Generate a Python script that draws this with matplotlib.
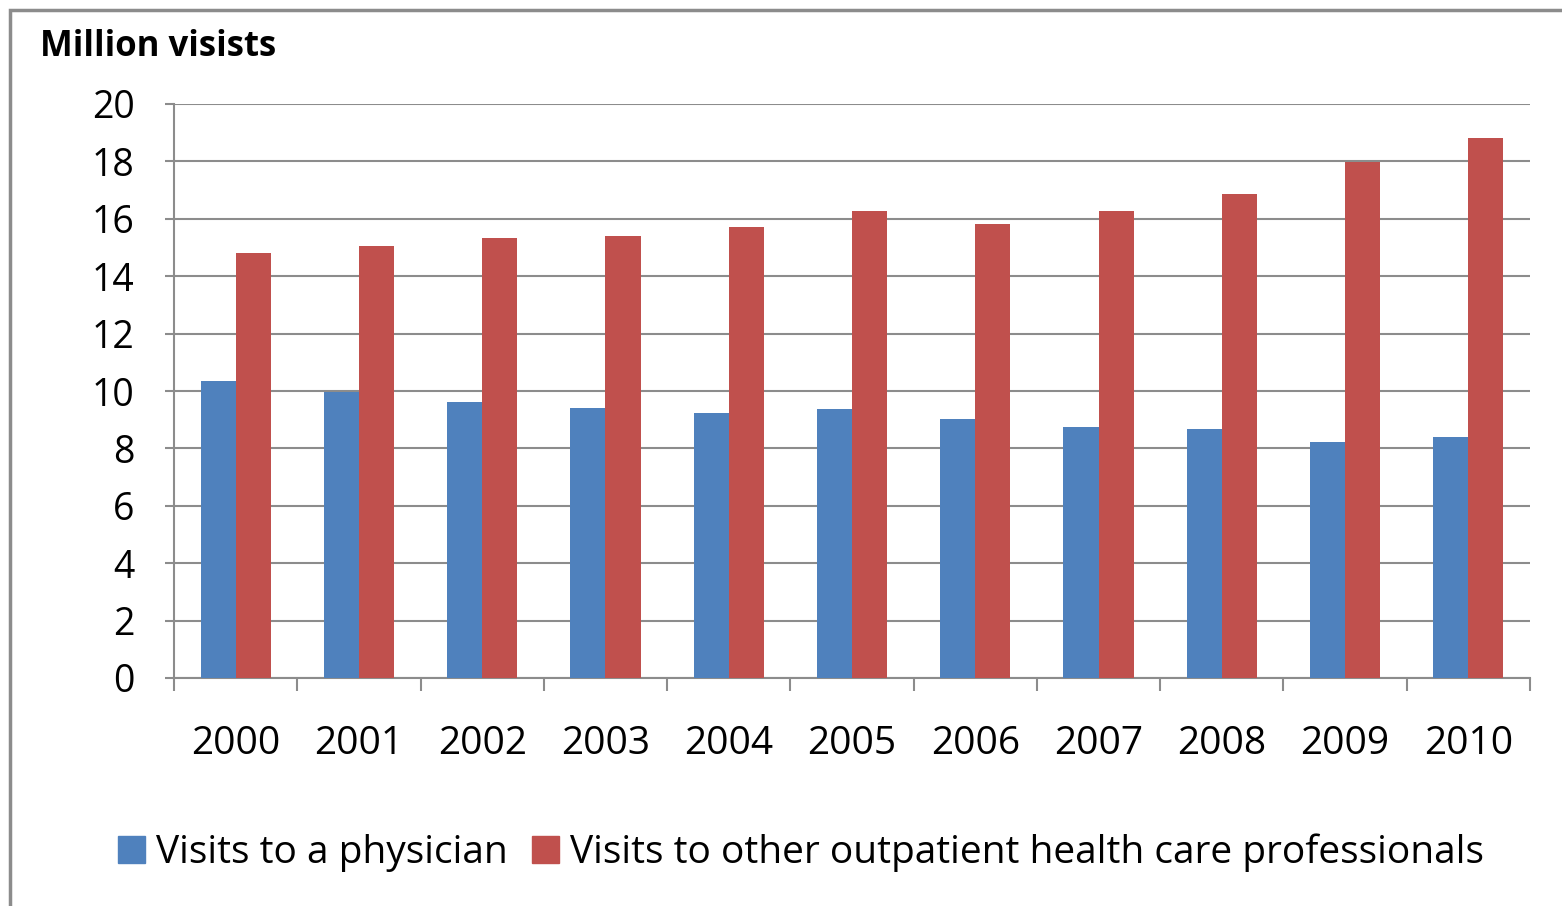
import numpy as np
import matplotlib.pyplot as plt
from matplotlib.patches import Rectangle, Patch

years = ["2000", "2001", "2002", "2003", "2004", "2005",
         "2006", "2007", "2008", "2009", "2010"]
physician = [10.36, 9.97, 9.63, 9.42, 9.22, 9.36, 9.02, 8.76, 8.69, 8.22, 8.41]
other_prof = [14.80, 15.06, 15.33, 15.40, 15.73, 16.27, 15.81, 16.27, 16.87, 17.97, 18.82]

blue = "#4F81BD"
red = "#C0504D"
grey = "#8C8C8C"

plt.rcParams["font.family"] = ["Open Sans", "DejaVu Sans"]

fig = plt.figure(figsize=(15.62, 9.06), dpi=100)
ax = fig.add_axes([174 / 1562, 1 - 678 / 906, (1530 - 174) / 1562, (678 - 104) / 906])

# outer chart frame (only top and left edges are visible)
fig.patches.append(Rectangle((10 / 1562, -0.1), 1.2, 1 - 10 / 906 + 0.1,
                             transform=fig.transFigure, fill=False,
                             edgecolor=grey, linewidth=2.5))

x = np.arange(len(years))
w = 0.285
ax.bar(x - w / 2, physician, w, color=blue, zorder=3)
ax.bar(x + w / 2, other_prof, w, color=red, zorder=3)

ax.set_xlim(-0.5, len(years) - 0.5)
ax.set_ylim(0, 20)
ax.set_yticks(range(0, 21, 2))
ax.set_xticks(x)
ax.set_xticklabels(years)
ax.set_xticks(np.arange(-0.5, len(years), 1), minor=True)

ax.grid(axis="y", color=grey, linewidth=1.5, zorder=0)
ax.set_axisbelow(True)
for s in ["top", "right"]:
    ax.spines[s].set_visible(False)
for s in ["left", "bottom"]:
    ax.spines[s].set_color(grey)
    ax.spines[s].set_linewidth(1.5)

ax.tick_params(axis="y", length=6.5, width=1.5, color=grey, pad=22, labelsize=27)
ax.tick_params(axis="x", which="major", length=0, pad=34, labelsize=28)
ax.tick_params(axis="x", which="minor", length=9, width=1.5, color=grey)

fig.text(40 / 1562, 1 - 47 / 906, "Million visists", fontsize=25,
         fontweight="bold", va="center", ha="left")

handles = [Patch(color=blue, label="Visits to a physician"),
           Patch(color=red, label="Visits to other outpatient health care professionals")]
fig.legend(handles=handles, loc="center", bbox_to_anchor=(801 / 1562, 1 - 853 / 906),
           ncol=2, frameon=False, fontsize=28, handlelength=0.7, handleheight=0.7,
           handletextpad=0.3, columnspacing=0.6)

fig.savefig("out.png", dpi=100)
